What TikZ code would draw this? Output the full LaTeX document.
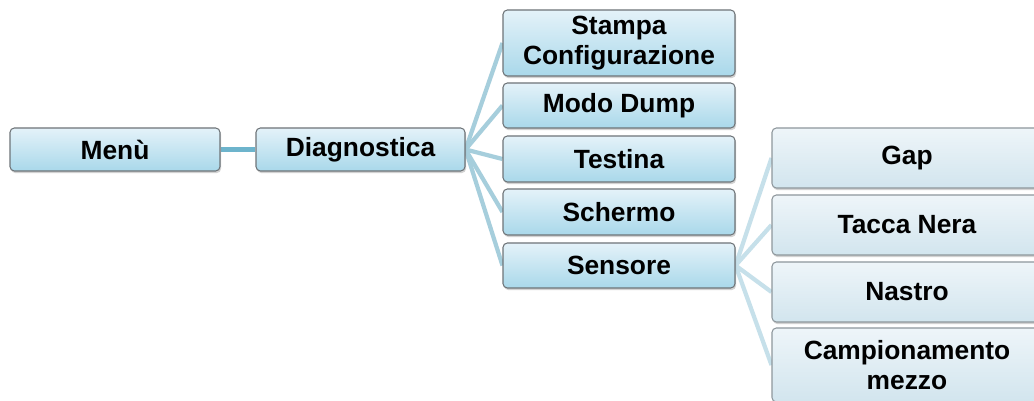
\documentclass[tikz,border=0pt]{standalone}
\usepackage{fontspec}
\setmainfont{Liberation Sans}
\usetikzlibrary{shadows,backgrounds}
\definecolor{topA}{HTML}{E4F2F9}
\definecolor{botA}{HTML}{A9D8EA}
\definecolor{topB}{HTML}{EEF5F9}
\definecolor{botB}{HTML}{D2E5EE}
\definecolor{edgeA}{HTML}{6E7478}
\definecolor{edgeB}{HTML}{8E979C}
\definecolor{connA}{HTML}{6DB4CC}
\definecolor{connB}{HTML}{A6CEDC}
\definecolor{connC}{HTML}{C6E0EA}
\tikzset{
  boxbase/.style={rectangle, rounded corners=2.5pt, line width=0.6pt, align=center,
    font=\fontsize{15}{17}\selectfont\bfseries, text=black, inner sep=0pt,
    drop shadow={opacity=0.35, shadow xshift=0.6pt, shadow yshift=-1.2pt}},
  boxA/.style={boxbase, draw=edgeA, top color=topA, bottom color=botA},
  boxB/.style={boxbase, draw=edgeB, top color=topB, bottom color=botB},
  conn1/.style={draw=connA, line width=3pt},
  conn2/.style={draw=connB, line width=2.4pt},
  conn3/.style={draw=connC, line width=2.4pt},
}
\begin{document}
\begin{tikzpicture}[x=0.02cm, y=-0.02cm]
\useasboundingbox (0,0) rectangle (1034,401);
\clip (0,0) rectangle (1034,401);

\node[boxA, minimum width=210*0.02cm, minimum height=43*0.02cm] (menu) at (115,149.5) {Menù};
\node[boxA, minimum width=209*0.02cm, minimum height=43*0.02cm] (diag) at (360.5,149.5) {Diagnostica};

\node[boxA, minimum width=232*0.02cm, minimum height=66*0.02cm] (stampa) at (619,43) {Stampa\\Configurazione};
\node[boxA, minimum width=232*0.02cm, minimum height=45*0.02cm] (modo) at (619,105.5) {Modo Dump};
\node[boxA, minimum width=232*0.02cm, minimum height=46*0.02cm] (testina) at (619,159) {Testina};
\node[boxA, minimum width=232*0.02cm, minimum height=46*0.02cm] (schermo) at (619,212) {Schermo};
\node[boxA, minimum width=232*0.02cm, minimum height=45*0.02cm] (sensore) at (619,265.5) {Sensore};

\node[boxB, minimum width=270*0.02cm, minimum height=60*0.02cm] (gap) at (907,158) {Gap};
\node[boxB, minimum width=270*0.02cm, minimum height=60*0.02cm] (tacca) at (907,225) {Tacca Nera};
\node[boxB, minimum width=270*0.02cm, minimum height=60*0.02cm] (nastro) at (907,292) {Nastro};
\node[boxB, minimum width=270*0.02cm, minimum height=74*0.02cm] (campion) at (907,365) {Campionamento\\mezzo};

\begin{scope}[on background layer]
\fill[white] (0,0) rectangle (1034,401);
\draw[conn1] (menu.east) -- (diag.west);
\draw[conn2] (diag.east) -- (stampa.west);
\draw[conn2] (diag.east) -- (modo.west);
\draw[conn2] (diag.east) -- (testina.west);
\draw[conn2] (diag.east) -- (schermo.west);
\draw[conn2] (diag.east) -- (sensore.west);
\draw[conn3] (sensore.east) -- (gap.west);
\draw[conn3] (sensore.east) -- (tacca.west);
\draw[conn3] (sensore.east) -- (nastro.west);
\draw[conn3] (sensore.east) -- (campion.west);
\end{scope}
\end{tikzpicture}
\end{document}
